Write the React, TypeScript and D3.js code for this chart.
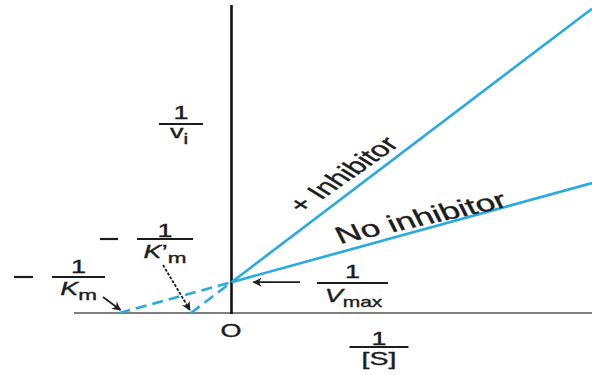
import React from "react";
import * as d3 from "d3";

// Lineweaver–Burk plot: competitive inhibition
const X_DOMAIN = [-4.5, 10.3]; // 1/[S]
const Y_DOMAIN = [0, 10]; // 1/v_i
const seriesNames = ["No inhibitor", "+ Inhibitor"];
const xIntercepts = [-3.2, -1.16]; // −1/Km, −1/K'm
const recipVmax = 1; // shared y-intercept 1/Vmax

const W = 592;
const H = 375;
const SX = 1.5; // horizontal stretch applied to lettering
const FONT = "'Liberation Sans', Arial, Helvetica, sans-serif";
const BLUE = "#27a9e1";
const INK = "#1c1c1c";

const x = d3.scaleLinear().domain(X_DOMAIN).range([74, 592]);
const y = d3.scaleLinear().domain(Y_DOMAIN).range([313, 5]);

const line = d3
  .line<[number, number]>()
  .x((d) => x(d[0]))
  .y((d) => y(d[1]));

const valueAt = (xi: number, s: number) => recipVmax * (1 - s / xi);

const heavy = { stroke: INK, strokeWidth: 0.35, paintOrder: "stroke" as const };

function Fraction({
  cx,
  barY,
  barW,
  numBase,
  denBase,
  numX = 0,
  denX = 0,
  fontSize = 18,
  children,
}: {
  cx: number;
  barY: number;
  barW: number;
  numBase: number;
  denBase: number;
  numX?: number;
  denX?: number;
  fontSize?: number;
  children: React.ReactNode;
}) {
  const hw = barW / 2 / SX;
  return (
    <g transform={`translate(${cx},${barY}) scale(${SX},1)`} fill={INK} fontFamily={FONT} fontSize={fontSize}>
      <line x1={-hw} x2={hw} y1={0} y2={0} stroke={INK} strokeWidth={2.2} />
      <text x={numX / SX} y={numBase - barY} textAnchor="middle" {...heavy}>1</text>
      <text x={denX / SX} y={denBase - barY} textAnchor="middle" {...heavy}>{children}</text>
    </g>
  );
}

function Minus({ x0, x1, yy }: { x0: number; x1: number; yy: number }) {
  return <line x1={x0} x2={x1} y1={yy} y2={yy} stroke={INK} strokeWidth={2.2} />;
}

export default function App() {
  const solid = xIntercepts.map((xi) => [
    [0, valueAt(xi, 0)],
    [X_DOMAIN[1], valueAt(xi, X_DOMAIN[1])],
  ] as [number, number][]);
  const dashed = xIntercepts.map((xi) => [
    [xi, 0],
    [0, valueAt(xi, 0)],
  ] as [number, number][]);

  const x0 = x(0);
  const y0 = y(0);
  const yV = y(recipVmax);

  return (
    <svg width={W} height={H} style={{ position: "absolute", left: 0, top: 0, background: "#fff" }}>
      <defs>
        <marker id="head" viewBox="0 0 10 10" refX="9" refY="5" markerUnits="userSpaceOnUse" markerWidth="11" markerHeight="9" orient="auto">
          <path d="M0,0 L10,5 L0,10 L3,5 z" fill={INK} />
        </marker>
      </defs>

      {/* axes */}
      <line x1={74} x2={W} y1={y0} y2={y0} stroke="#555" strokeWidth={1.6} />
      <line x1={x0} x2={x0} y1={5} y2={y0 + 1} stroke="#111" strokeWidth={2.6} />

      {/* reciprocal plots */}
      {solid.map((pts, i) => (
        <path key={"s" + i} d={line(pts) ?? ""} stroke={BLUE} strokeWidth={2.6} fill="none" />
      ))}
      {dashed.map((pts, i) => (
        <path key={"d" + i} d={line(pts) ?? ""} stroke={BLUE} strokeWidth={2.6} fill="none" strokeDasharray="11 6" />
      ))}

      {/* 1/v_i */}
      <Fraction cx={181} barY={124} barW={44} numBase={119} denBase={138} denX={-2}>
        <tspan>v</tspan>
        <tspan dy={6} fontSize={14}>i</tspan>
      </Fraction>

      {/* −1/K'm */}
      <Minus x0={100} x1={118} yy={239} />
      <Fraction cx={165} barY={239} barW={56} numBase={237} denBase={258}>
        <tspan fontStyle="italic">K</tspan>
        <tspan>’</tspan>
        <tspan dy={5} fontSize={15}>m</tspan>
      </Fraction>

      {/* −1/Km */}
      <Minus x0={14} x1={33} yy={277} />
      <Fraction cx={78.5} barY={277} barW={53} numBase={273} denBase={295}>
        <tspan fontStyle="italic">K</tspan>
        <tspan dy={5} fontSize={15}>m</tspan>
      </Fraction>

      {/* 1/Vmax */}
      <Fraction cx={352.5} barY={283} barW={71} numBase={278} denBase={302} denX={1}>
        <tspan fontStyle="italic">V</tspan>
        <tspan dy={5} fontSize={14}>max</tspan>
      </Fraction>

      {/* 1/[S] */}
      <Fraction cx={379} barY={347} barW={59} numBase={345} denBase={365}>
        <tspan fontSize={19}>[S]</tspan>
      </Fraction>

      {/* origin */}
      <text transform={`translate(231,337) scale(${SX},1)`} textAnchor="middle" fontFamily={FONT} fontSize={18} fill={INK} {...heavy}>O</text>

      {/* pointers */}
      <line x1={103} y1={297} x2={x(xIntercepts[0]) + 1} y2={y0 - 3} stroke={INK} strokeWidth={1.7} markerEnd="url(#head)" />
      <line x1={163} y1={265} x2={x(xIntercepts[1]) - 1} y2={y0 - 3} stroke={INK} strokeWidth={1.8} strokeDasharray="3 1.5" markerEnd="url(#head)" />
      <line x1={300} y1={yV} x2={x0 + 22} y2={yV} stroke={INK} strokeWidth={1.7} markerEnd="url(#head)" />

      {/* series labels */}
      <text transform={`translate(302,214) scale(${SX},1) rotate(-46.5)`} fontFamily={FONT} fontSize={21.5} fill={INK} {...heavy}>
        {seriesNames[1]}
      </text>
      <text transform={`translate(340,244) scale(${SX},1) rotate(-18.5)`} fontFamily={FONT} fontSize={23.5} fill={INK} {...heavy}>
        {seriesNames[0]}
      </text>
    </svg>
  );
}
